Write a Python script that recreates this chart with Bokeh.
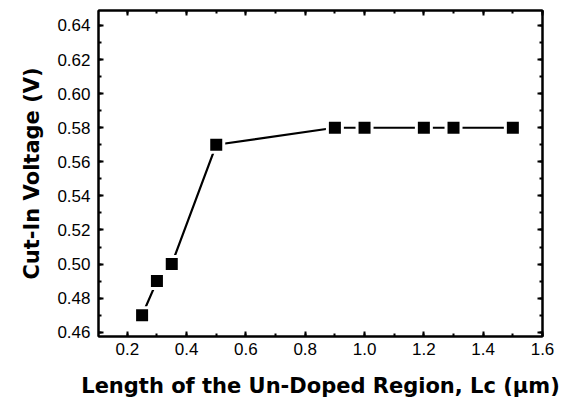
from bokeh.plotting import figure
from bokeh.models import LinearAxis, Range1d, SingleIntervalTicker, PrintfTickFormatter, CustomJSTickFormatter
from bokeh.embed import file_html
from bokeh.resources import INLINE

lc_um = [0.25, 0.30, 0.35, 0.50, 0.90, 1.00, 1.20, 1.30, 1.50]
cut_in_v = [0.47, 0.49, 0.50, 0.57, 0.58, 0.58, 0.58, 0.58, 0.58]

p = figure(width=582, height=407, output_backend="svg", toolbar_location=None,
           x_range=Range1d(0.103, 1.6), y_range=Range1d(0.4575, 0.6488),
           min_border_left=98, min_border_right=40, min_border_top=10, min_border_bottom=71)
p.grid.visible = False
p.outline_line_color = "black"
p.outline_line_width = 2

p.line(lc_um, cut_in_v, line_color="black", line_width=2.2)
p.scatter(lc_um, cut_in_v, marker="square", size=15, fill_color="black",
          line_color="white", line_width=3)

def style(ax):
    ax.axis_line_color = "black"
    ax.axis_line_width = 2
    ax.major_tick_in = 5
    ax.major_tick_out = 0
    ax.minor_tick_in = 3
    ax.minor_tick_out = 0
    ax.major_tick_line_width = 2
    ax.minor_tick_line_width = 2
    ax.major_label_text_font = "Liberation Sans"
    ax.major_label_text_font_size = "17px"
    ax.major_label_text_color = "black"
    ax.axis_label_text_font = "DejaVu Sans"
    ax.axis_label_text_font_style = "bold"
    ax.axis_label_text_font_size = "21px"
    ax.axis_label_text_color = "black"

p.xaxis.ticker = SingleIntervalTicker(interval=0.2, num_minor_ticks=2)
p.yaxis.ticker = SingleIntervalTicker(interval=0.02, num_minor_ticks=2)
p.xaxis.formatter = PrintfTickFormatter(format="%.1f")
p.yaxis.formatter = PrintfTickFormatter(format="%.2f")
style(p.xaxis[0])
style(p.yaxis[0])
p.xaxis[0].axis_label = "Length of the Un-Doped Region, Lc (\u03bcm)"
p.yaxis[0].axis_label = "Cut-In Voltage (V)"
p.xaxis[0].axis_label_standoff = 16
p.yaxis[0].axis_label_standoff = 10
p.xaxis[0].major_label_standoff = 6
p.yaxis[0].major_label_standoff = 8

blank = CustomJSTickFormatter(code="return '';")
top = LinearAxis(ticker=SingleIntervalTicker(interval=0.2, num_minor_ticks=2), formatter=blank)
right = LinearAxis(ticker=SingleIntervalTicker(interval=0.02, num_minor_ticks=2), formatter=blank)
style(top)
style(right)
top.major_label_standoff = 0
right.major_label_standoff = 0
p.add_layout(top, "above")
p.add_layout(right, "right")

open("out.html", "w").write(file_html(p, INLINE))
